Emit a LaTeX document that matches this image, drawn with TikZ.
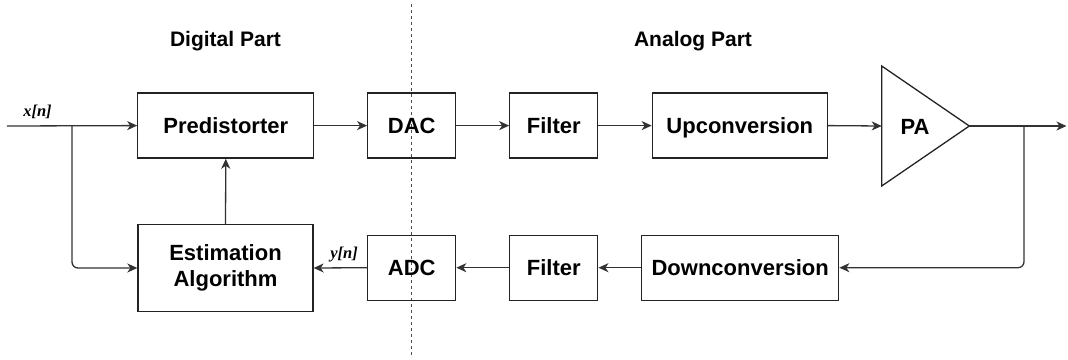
\documentclass[tikz,border=0pt]{standalone}
\usepackage{fontspec}
\setmainfont{Liberation Sans}
\newfontfamily\lserif{Liberation Serif}
\usetikzlibrary{arrows.meta}
\definecolor{linec}{RGB}{35,35,35}
\definecolor{conc}{RGB}{50,50,50}
\begin{document}
\begin{tikzpicture}[x=1pt,y=-1pt,
  blk/.style={draw=linec, line width=1.3pt, inner sep=0pt, align=center,
    font=\fontsize{22}{26}\selectfont\bfseries},
  one/.style={text height=16pt, text depth=0pt},
  con/.style={draw=conc, line width=1.3pt, -{Stealth[length=10pt,width=9pt,inset=3pt]}},
  ttl/.style={font=\fontsize{21}{25}\selectfont\bfseries},
  sig/.style={font=\lserif\fontsize{16.5}{18}\selectfont\bfseries\itshape}]
\useasboundingbox (0,0) rectangle (1068,359);
% divider
\draw[line width=0.9pt, draw=black!70, dash pattern=on 3pt off 3pt] (411.7,4) -- (411.7,356);
% titles
\node[ttl] (tdig) at (225.5,41.5) {Digital Part};
\node[ttl] (tana) at (693,41.5) {Analog Part};
% blocks
\node[blk, one, minimum width=176pt, minimum height=65pt] (pre) at (225.8,125.6) {Predistorter};
\node[blk, one, minimum width=88pt, minimum height=65pt] (dac) at (411.7,125.6) {DAC};
\node[blk, one, minimum width=88pt, minimum height=65pt] (f1) at (553.8,125.6) {Filter};
\node[blk, one, minimum width=175pt, minimum height=65pt] (up) at (739.8,125.6) {Upconversion};
\node[blk, one, minimum width=197pt, minimum height=65pt] (down) at (740.2,267.7) {Downconversion};
\node[blk, one, minimum width=88pt, minimum height=65pt] (f2) at (553.8,267.7) {Filter};
\node[blk, one, minimum width=88pt, minimum height=65pt] (adc) at (411.7,267.7) {ADC};
\node[blk, minimum width=175pt, minimum height=87pt] (est) at (225.5,268) {Estimation\\Algorithm};
% PA triangle
\coordinate (pain) at (881.7,126);
\coordinate (paout) at (969.3,126);
\draw[draw=linec, line width=1.3pt, line join=miter] (881.7,66) -- (969.3,126) -- (881.7,186) -- cycle;
\node[font=\fontsize{22}{26}\selectfont\bfseries, text height=16pt, text depth=0pt] (pa) at (915,126) {PA};
% signal coordinates
\coordinate (in) at (7,126);
\coordinate (brin) at (72,126);
\coordinate (out) at (1066.5,126);
\coordinate (brout) at (1024,126);
% connectors
\draw[con] (in) -- (pre.west);
\draw[con, rounded corners=6pt] (brin) |- (est.west);
\draw[con] (pre.east) -- (dac.west);
\draw[con] (dac.east) -- (f1.west);
\draw[con] (f1.east) -- (up.west);
\draw[con] (up.east) -- (pain);
\draw[con] (paout) -- (out);
\draw[con, rounded corners=6pt] (brout) |- (down.east);
\draw[con] (down.west) -- (f2.east);
\draw[con] (f2.west) -- (adc.east);
\draw[con] (adc.west) -- (est.east);
\draw[con] (est.north) -- (pre.south);
% signal labels
\node[sig] (xn) at (37.5,112) {x[n]};
\node[sig] (yn) at (344,255) {y[n]};
\end{tikzpicture}
\end{document}
